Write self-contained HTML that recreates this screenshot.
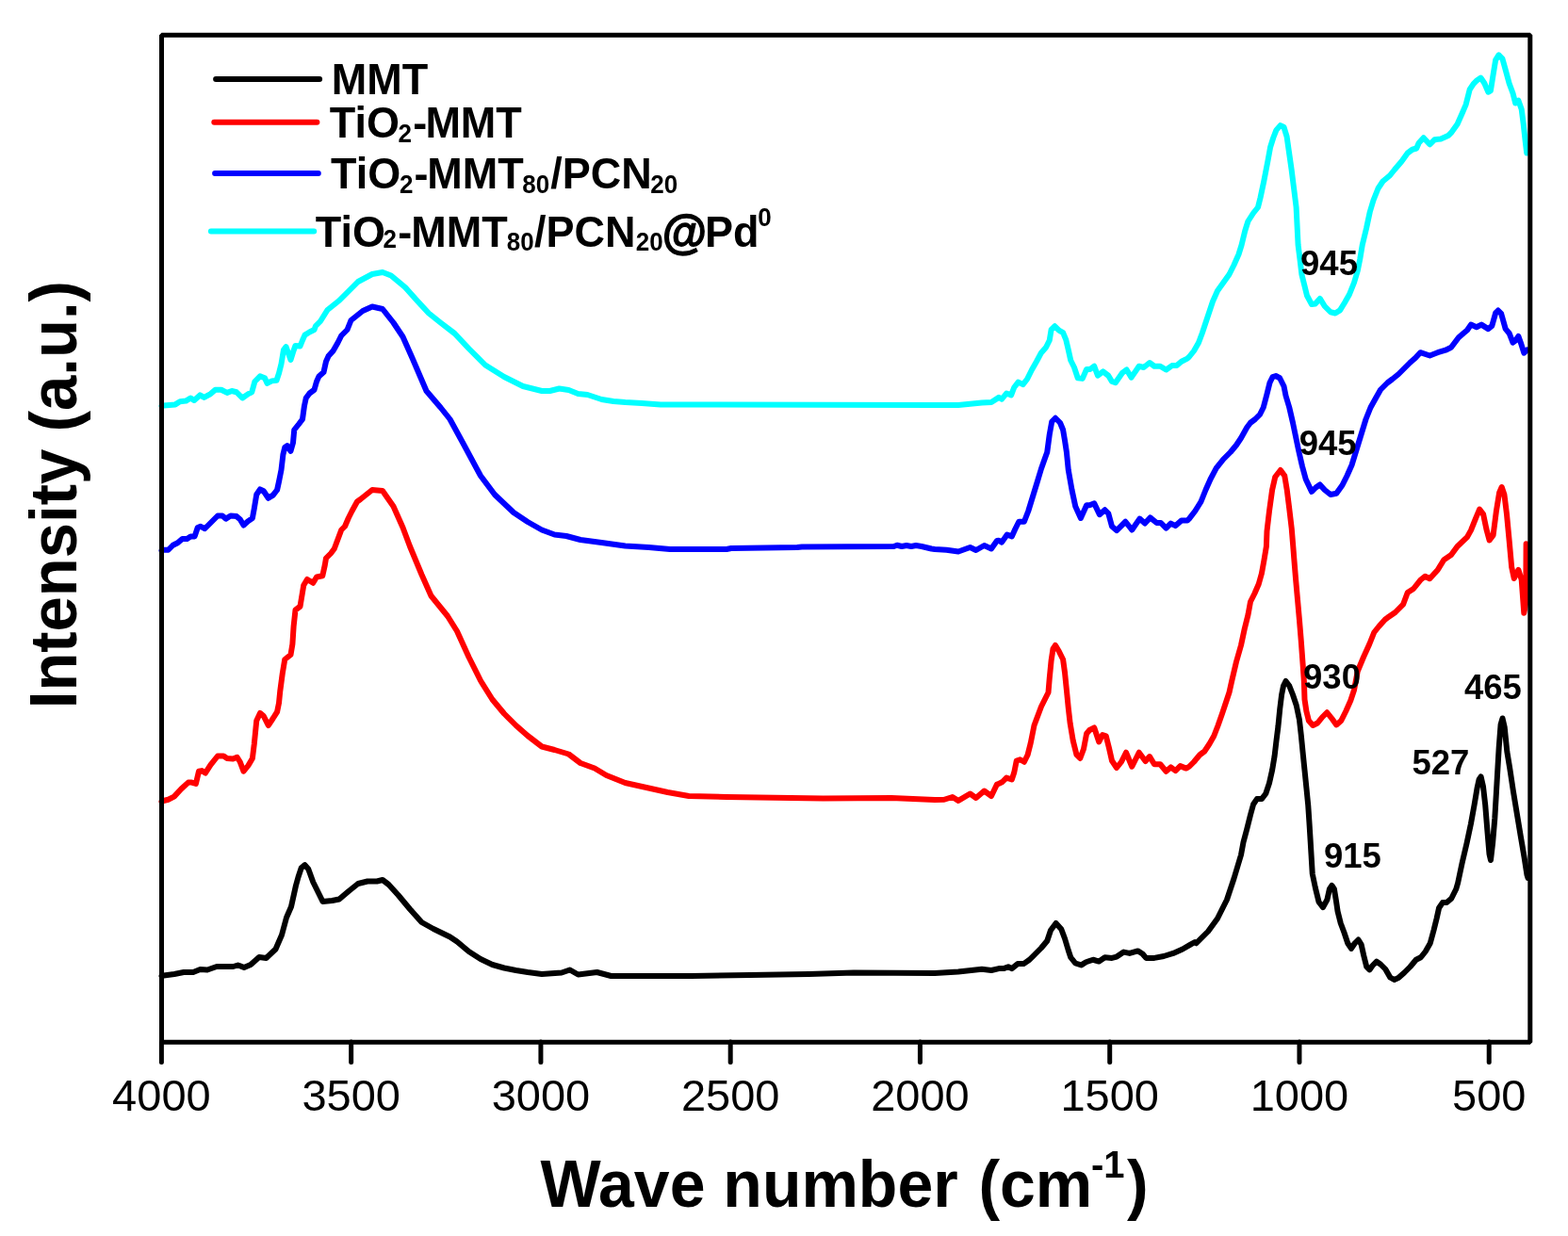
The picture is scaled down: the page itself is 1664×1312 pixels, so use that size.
<!DOCTYPE html>
<html><head><meta charset="utf-8"><title>FTIR spectra</title>
<style>
html,body{margin:0;padding:0;background:#fff;}
body{width:1664px;height:1312px;overflow:hidden;}
svg{display:block;font-family:'Liberation Sans', Arial, sans-serif;}
</style></head><body>
<svg width="1664" height="1312" viewBox="0 0 1664 1312">
<rect x="0" y="0" width="1664" height="1312" fill="#fff"/>
<path d="M171.50 1036.00L173.75 1035.50L185.00 1034.00L195.00 1032.00L205.00 1032.00L212.50 1029.00L220.00 1029.50L230.00 1026.00L240.00 1026.00L247.50 1026.00L252.50 1024.50L259.00 1027.00L266.00 1024.00L275.00 1016.00L282.50 1017.00L292.50 1007.50L299.00 992.50L304.00 974.00L309.00 962.50L314.00 940.00L316.50 931.00L319.75 921.25L323.50 918.10L327.25 922.50L332.25 936.25L342.50 957.00L352.50 956.00L360.00 954.50L370.00 946.00L380.00 938.00L390.00 935.50L400.00 935.50L406.00 934.00L412.50 939.00L422.50 950.00L435.00 965.00L447.50 979.00L460.00 986.00L477.50 994.50L485.00 999.50L497.50 1010.00L510.00 1018.00L522.50 1024.00L535.00 1027.50L547.50 1030.00L560.00 1032.00L575.00 1034.00L596.00 1032.50L604.75 1029.50L613.50 1034.50L633.50 1032.00L648.50 1036.00L733.50 1036.00L796.00 1035.00L858.50 1034.00L906.00 1032.50L992.00 1033.00L1017.00 1031.50L1042.00 1028.75L1052.00 1030.00L1060.00 1028.10L1065.00 1028.10L1070.00 1026.25L1073.75 1028.10L1080.00 1023.10L1086.25 1023.10L1092.50 1018.75L1098.75 1012.50L1105.00 1006.25L1111.25 998.75L1115.00 987.50L1120.60 980.00L1126.25 986.25L1130.00 996.25L1133.75 1008.75L1136.25 1016.25L1141.25 1022.50L1147.50 1024.40L1152.50 1021.25L1160.00 1018.75L1166.25 1020.60L1172.50 1016.25L1180.00 1016.90L1185.00 1015.60L1192.50 1010.60L1198.75 1011.90L1207.50 1009.40L1212.50 1012.50L1216.25 1016.90L1225.00 1016.90L1235.00 1015.00L1245.00 1011.90L1255.00 1007.50L1262.50 1003.10L1268.00 1000.00L1269.50 1001.25L1282.00 988.75L1292.00 975.00L1302.00 955.00L1309.50 932.50L1317.00 907.50L1319.50 894.00L1323.25 880.00L1327.00 865.00L1330.10 853.75L1333.90 848.10L1338.90 848.10L1343.25 842.50L1347.00 831.25L1350.10 817.50L1352.60 802.50L1354.50 786.25L1356.40 771.25L1358.25 752.50L1360.10 737.50L1362.00 728.00L1364.50 723.00L1368.25 728.00L1372.00 737.50L1375.75 748.75L1378.90 763.75L1380.75 780.00L1382.60 798.75L1384.50 817.50L1386.40 836.25L1388.25 855.00L1389.50 873.75L1390.75 894.00L1392.75 927.50L1395.90 942.50L1399.60 957.50L1404.00 963.10L1408.40 955.00L1410.90 943.75L1413.40 940.00L1415.90 943.75L1417.75 955.00L1419.60 967.50L1422.75 980.00L1426.50 990.00L1430.25 1001.25L1434.00 1006.90L1437.75 1001.25L1441.50 997.50L1444.60 1002.50L1447.10 1013.75L1450.25 1026.25L1453.40 1029.40L1456.50 1025.00L1460.90 1020.60L1465.25 1023.75L1470.25 1028.75L1475.25 1037.50L1479.60 1040.00L1484.00 1038.10L1490.25 1032.50L1496.50 1026.25L1502.75 1018.75L1507.75 1016.25L1512.75 1010.00L1517.75 1001.25L1521.50 987.50L1524.60 975.00L1527.10 963.75L1530.90 958.10L1535.25 958.10L1540.25 953.75L1545.25 943.75L1547.20 937.00L1551.50 916.70L1556.60 894.90L1560.90 874.60L1564.60 854.30L1567.50 837.00L1569.60 827.50L1571.60 824.50L1574.00 835.00L1576.20 854.30L1578.30 880.40L1580.50 906.50L1582.00 913.00L1584.10 894.90L1586.30 868.80L1588.50 831.20L1590.70 793.50L1592.60 769.00L1594.50 762.50L1596.70 772.00L1599.30 797.80L1602.20 815.20L1605.90 839.90L1610.20 865.90L1613.80 887.70L1617.50 909.40L1620.40 928.30L1621.50 932.00" fill="none" stroke="#000000" stroke-width="6" stroke-linejoin="round" stroke-linecap="round"/>
<path d="M171.50 851.00L173.50 850.00L178.50 848.75L184.75 845.60L192.25 837.50L199.75 830.60L203.50 830.60L207.90 831.90L211.00 818.75L214.10 818.10L217.90 820.60L223.50 811.90L231.00 802.50L237.25 802.50L241.00 805.00L247.25 805.60L251.60 803.75L254.75 808.75L258.50 818.75L263.50 812.50L267.90 805.00L269.75 790.00L272.25 765.00L276.00 756.90L279.75 760.00L284.75 770.00L289.75 762.50L294.10 755.60L296.00 746.25L297.25 733.75L299.75 715.00L302.25 700.00L308.50 695.00L310.40 683.75L311.60 665.00L313.50 647.50L318.50 643.75L319.75 636.25L322.25 621.25L326.00 615.00L332.25 618.75L336.00 612.50L342.25 611.25L344.75 600.00L346.00 592.50L351.00 587.50L354.75 582.50L358.50 572.50L362.25 562.50L366.00 558.75L369.75 550.00L373.50 542.50L379.00 532.50L382.50 530.00L395.00 520.00L406.00 521.00L417.50 537.50L427.50 560.00L435.00 580.00L447.50 610.00L457.50 632.50L475.00 654.00L485.00 670.00L497.50 697.50L510.00 722.50L522.50 742.50L535.00 757.50L547.50 770.00L560.00 781.00L575.00 792.50L588.50 796.00L603.50 800.50L616.00 810.00L631.00 815.50L643.50 823.00L663.50 831.00L686.00 836.00L708.50 841.00L731.00 845.00L771.00 846.00L873.50 847.50L946.00 847.00L992.00 849.00L1002.00 848.75L1010.75 846.00L1017.00 850.00L1029.50 842.50L1035.75 847.00L1044.50 839.50L1052.00 845.00L1058.00 832.50L1060.00 831.90L1063.75 830.00L1068.10 825.60L1073.75 827.50L1076.25 820.00L1078.75 807.50L1082.50 806.25L1086.90 808.75L1090.60 801.25L1093.75 788.75L1097.50 770.00L1101.25 760.00L1105.00 750.00L1110.00 740.00L1112.50 735.00L1113.75 720.00L1115.60 701.25L1117.50 688.75L1120.00 685.00L1123.75 691.25L1128.10 700.00L1130.00 713.75L1131.90 732.50L1133.75 751.25L1135.60 767.50L1138.75 786.25L1142.50 801.25L1146.25 805.00L1150.00 795.00L1153.10 778.75L1156.25 775.00L1161.25 772.50L1166.25 787.50L1170.00 780.00L1173.75 781.25L1176.90 793.75L1180.00 807.50L1185.00 815.00L1190.00 808.75L1195.00 798.75L1201.25 813.75L1208.75 798.75L1215.60 808.10L1220.00 803.10L1225.00 811.25L1231.25 811.25L1237.50 818.75L1242.50 814.40L1247.50 818.10L1252.50 813.10L1258.75 815.60L1262.00 813.75L1267.00 808.75L1273.25 801.25L1278.25 797.50L1283.25 790.00L1288.25 781.25L1292.60 770.00L1297.00 757.50L1300.75 746.25L1304.50 735.00L1307.00 723.75L1312.00 702.50L1317.00 685.00L1320.75 667.50L1324.50 652.50L1327.00 638.75L1331.40 630.00L1335.75 620.00L1338.90 608.75L1341.40 595.00L1343.90 580.00L1344.50 563.75L1347.00 542.50L1350.10 520.00L1353.25 506.25L1358.90 499.00L1363.25 505.00L1365.75 520.00L1368.25 540.00L1370.75 561.25L1372.60 584.00L1373.25 592.50L1375.10 615.00L1377.00 636.25L1378.90 657.50L1380.75 680.00L1382.60 705.00L1383.90 723.75L1384.50 742.50L1386.40 755.00L1388.90 765.00L1393.25 770.00L1398.25 767.50L1403.25 761.25L1408.25 756.25L1413.25 762.50L1418.25 769.40L1423.25 765.00L1428.25 755.00L1433.25 743.75L1437.00 732.50L1440.75 712.50L1447.00 697.50L1453.25 683.75L1458.25 671.25L1463.25 665.00L1470.00 657.50L1472.30 655.80L1480.70 650.00L1489.00 641.70L1493.75 629.00L1500.00 625.00L1507.30 615.80L1512.30 611.70L1517.30 614.20L1525.70 605.00L1532.30 594.20L1540.00 589.10L1546.60 580.00L1557.00 570.10L1561.00 562.90L1566.20 549.80L1570.10 540.60L1574.10 545.90L1577.40 561.60L1580.60 573.40L1584.60 568.20L1587.80 543.30L1591.10 522.90L1593.70 517.00L1596.40 524.90L1599.00 545.90L1601.60 573.40L1604.20 602.20L1606.80 614.00L1611.40 604.90L1614.70 615.30L1617.30 650.70L1619.30 640.00L1619.60 577.30" fill="none" stroke="#ff0000" stroke-width="6" stroke-linejoin="round" stroke-linecap="round"/>
<path d="M171.50 584.50L173.50 583.75L178.50 583.75L183.50 578.75L188.50 576.25L193.50 571.90L198.50 571.90L202.25 569.40L206.60 569.40L209.75 560.00L212.90 558.75L217.25 561.25L223.50 555.00L231.00 547.50L236.00 547.50L239.75 550.60L244.75 547.50L251.00 548.10L254.75 551.25L258.50 557.50L263.50 553.10L267.90 550.00L269.75 540.00L272.25 525.00L276.00 519.40L279.75 521.25L284.75 528.75L289.75 525.60L294.10 520.00L296.00 511.25L298.50 498.75L300.40 482.50L302.25 475.00L304.75 473.10L308.50 478.75L311.00 470.00L312.25 456.25L317.25 450.00L321.00 445.00L322.90 431.25L324.75 422.50L328.50 417.50L333.50 413.75L336.00 405.00L338.50 399.40L343.50 395.00L346.00 383.75L348.50 378.10L353.50 372.50L358.50 363.75L362.25 356.25L368.50 350.00L372.50 340.00L385.00 330.00L395.00 325.50L406.00 328.00L417.50 342.50L427.50 357.50L437.50 380.00L452.50 415.00L467.50 432.50L477.50 445.00L492.50 472.50L510.00 505.00L525.00 525.00L545.00 544.00L560.00 554.00L575.00 562.50L588.50 567.50L601.00 569.00L616.00 573.00L638.50 576.00L663.50 579.50L688.50 581.00L711.00 583.00L771.00 583.00L776.00 582.00L846.00 581.00L851.00 580.50L948.50 580.00L952.00 578.75L957.00 580.00L962.00 579.00L967.00 580.00L972.00 579.00L978.00 580.00L988.50 582.50L992.00 583.00L1004.50 583.75L1017.00 585.50L1029.50 581.00L1035.75 584.00L1044.50 579.00L1052.00 582.50L1058.00 574.00L1060.00 573.75L1063.10 575.60L1068.75 567.50L1073.75 569.40L1077.50 561.25L1081.25 553.75L1086.90 553.75L1091.25 542.50L1096.25 526.25L1101.25 510.00L1105.00 497.50L1108.00 489.00L1111.25 480.00L1113.75 461.25L1116.25 447.50L1120.00 443.75L1125.00 448.75L1128.10 456.25L1130.00 467.50L1131.90 480.00L1133.75 498.75L1137.50 520.00L1141.25 537.50L1146.90 550.00L1153.10 536.25L1156.25 536.25L1161.25 534.40L1166.90 546.25L1172.50 541.25L1176.25 545.00L1180.00 558.75L1185.00 563.10L1194.40 553.75L1201.25 562.50L1209.40 550.60L1215.00 555.60L1220.60 549.40L1227.50 555.00L1231.90 555.00L1237.50 560.60L1242.50 555.60L1247.50 558.10L1253.75 552.50L1260.00 552.50L1262.00 550.60L1268.25 542.50L1274.50 532.50L1279.50 520.00L1284.50 508.75L1290.75 496.90L1298.25 487.50L1305.75 480.00L1312.00 472.50L1317.00 465.00L1323.25 453.75L1327.00 448.75L1332.00 445.00L1337.00 440.00L1340.75 432.50L1344.40 418.75L1347.50 406.25L1350.60 400.00L1353.90 399.00L1358.10 401.25L1362.50 410.00L1364.50 420.00L1368.25 432.50L1372.00 448.75L1375.10 463.75L1378.25 478.75L1382.00 495.00L1385.75 508.75L1392.00 521.90L1396.40 517.50L1400.75 514.40L1405.75 520.00L1412.00 525.00L1418.25 523.75L1424.50 515.00L1429.50 505.00L1434.50 493.75L1439.50 477.50L1444.50 461.25L1449.50 445.00L1454.50 432.50L1460.75 421.25L1465.00 413.75L1472.50 406.25L1477.50 402.50L1483.75 397.50L1490.00 391.25L1496.25 385.00L1502.00 380.00L1507.30 374.20L1517.30 377.50L1525.70 374.20L1534.00 371.70L1540.00 368.80L1547.90 358.30L1553.10 353.70L1557.00 350.50L1561.00 344.60L1566.90 347.20L1572.10 344.60L1579.30 349.10L1583.30 345.90L1587.20 332.10L1589.80 329.50L1593.10 332.80L1597.70 349.10L1601.60 353.70L1605.50 363.60L1608.20 361.60L1611.40 357.00L1614.00 364.20L1617.30 374.70L1620.60 371.40" fill="none" stroke="#0000ff" stroke-width="6" stroke-linejoin="round" stroke-linecap="round"/>
<path d="M171.50 431.00L173.50 430.60L179.75 430.00L186.00 429.40L191.00 426.25L197.25 425.60L202.25 422.50L206.00 425.00L212.25 419.40L216.60 421.90L223.50 418.10L228.50 413.75L234.75 413.75L241.00 416.90L246.00 415.00L251.00 416.25L257.25 422.50L263.50 418.10L267.25 416.25L270.40 405.00L276.00 399.40L281.00 401.25L283.50 406.90L288.50 404.40L293.50 403.75L296.00 396.25L298.50 386.25L301.00 371.25L303.50 368.10L306.00 375.00L308.50 381.90L311.00 373.75L313.50 366.90L318.50 367.50L321.00 361.25L323.50 355.60L328.50 352.50L333.50 350.00L335.00 346.00L340.00 341.00L347.50 329.00L360.00 319.00L370.00 309.00L380.00 299.00L395.00 291.00L406.00 289.00L415.00 292.50L430.00 305.00L442.50 319.00L455.00 332.50L467.50 342.50L482.50 354.00L497.50 370.00L515.00 387.50L535.00 400.00L555.00 410.00L575.00 415.00L583.50 415.00L593.50 412.50L603.50 414.00L613.50 418.00L623.50 419.00L638.50 424.00L651.00 426.00L663.50 427.00L681.00 428.00L701.00 429.50L992.00 430.00L1004.50 430.00L1017.00 430.00L1029.50 428.75L1042.00 427.50L1052.00 427.00L1060.00 421.90L1063.10 423.75L1068.10 417.50L1073.10 419.40L1076.25 411.25L1080.60 405.60L1085.60 408.10L1090.00 402.50L1095.00 392.50L1100.00 383.75L1105.00 374.40L1110.00 368.75L1113.75 361.25L1115.60 350.00L1119.40 346.25L1123.75 350.60L1128.10 353.10L1131.25 360.60L1133.75 371.25L1136.25 382.50L1140.00 390.00L1143.75 401.25L1148.75 401.90L1153.10 391.90L1156.90 391.90L1161.25 388.75L1165.00 398.75L1170.60 394.40L1176.25 398.75L1180.00 405.00L1183.75 406.25L1191.25 395.60L1195.60 392.50L1200.60 400.60L1208.75 388.75L1213.75 390.00L1220.00 385.00L1225.00 388.75L1231.25 388.75L1237.50 392.50L1243.75 388.10L1248.75 388.10L1253.75 383.75L1260.00 380.60L1262.00 378.75L1267.00 372.50L1272.00 363.75L1275.75 353.75L1279.50 342.50L1283.25 331.25L1287.00 320.00L1292.00 308.75L1298.25 300.00L1304.50 291.25L1309.50 281.25L1314.50 270.00L1317.60 260.00L1321.25 245.00L1324.40 235.00L1330.00 226.25L1335.00 220.00L1337.50 210.00L1341.25 192.50L1345.60 170.00L1348.10 156.25L1351.25 146.25L1354.40 138.10L1358.75 133.10L1362.50 135.00L1365.60 145.00L1368.10 162.50L1370.60 180.00L1373.10 200.00L1375.60 220.00L1377.60 260.00L1379.50 275.00L1381.40 291.25L1383.90 301.25L1387.00 313.75L1392.00 323.10L1395.75 322.50L1400.75 316.90L1405.75 325.00L1412.00 331.25L1417.00 332.50L1422.00 329.40L1427.00 321.25L1432.00 312.50L1437.00 300.00L1440.75 287.50L1443.25 275.00L1445.75 260.00L1450.00 242.50L1453.75 225.00L1457.50 212.50L1462.50 200.00L1467.50 192.50L1475.00 186.25L1480.00 180.00L1487.50 171.25L1493.75 162.50L1498.75 158.75L1503.20 157.50L1505.70 151.70L1510.70 146.30L1517.30 153.30L1522.30 148.30L1529.00 147.50L1537.30 143.70L1540.00 140.90L1546.60 131.70L1551.80 120.00L1555.70 110.80L1559.70 95.00L1563.60 89.10L1567.50 85.20L1571.50 82.60L1575.40 88.50L1579.30 97.70L1581.90 96.40L1584.60 79.30L1587.20 63.60L1590.50 58.30L1594.40 62.30L1597.70 74.10L1601.60 88.50L1605.50 99.00L1608.20 109.50L1611.40 106.80L1614.70 116.00L1616.70 131.70L1618.60 148.80L1620.20 162.50" fill="none" stroke="#00ffff" stroke-width="6" stroke-linejoin="round" stroke-linecap="round"/>
<rect x="171.5" y="37.3" width="1452.3" height="1069" fill="none" stroke="#000" stroke-width="5" stroke-linejoin="bevel"/>
<line x1="171.40" y1="1106" x2="171.40" y2="1127.5" stroke="#000" stroke-width="5" stroke-linecap="round"/>
<text x="171.40" y="1178.8" font-size="47" text-anchor="middle">4000</text>
<line x1="372.66" y1="1106" x2="372.66" y2="1127.5" stroke="#000" stroke-width="5" stroke-linecap="round"/>
<text x="372.66" y="1178.8" font-size="47" text-anchor="middle">3500</text>
<line x1="573.92" y1="1106" x2="573.92" y2="1127.5" stroke="#000" stroke-width="5" stroke-linecap="round"/>
<text x="573.92" y="1178.8" font-size="47" text-anchor="middle">3000</text>
<line x1="775.18" y1="1106" x2="775.18" y2="1127.5" stroke="#000" stroke-width="5" stroke-linecap="round"/>
<text x="775.18" y="1178.8" font-size="47" text-anchor="middle">2500</text>
<line x1="976.44" y1="1106" x2="976.44" y2="1127.5" stroke="#000" stroke-width="5" stroke-linecap="round"/>
<text x="976.44" y="1178.8" font-size="47" text-anchor="middle">2000</text>
<line x1="1177.70" y1="1106" x2="1177.70" y2="1127.5" stroke="#000" stroke-width="5" stroke-linecap="round"/>
<text x="1177.70" y="1178.8" font-size="47" text-anchor="middle">1500</text>
<line x1="1378.96" y1="1106" x2="1378.96" y2="1127.5" stroke="#000" stroke-width="5" stroke-linecap="round"/>
<text x="1378.96" y="1178.8" font-size="47" text-anchor="middle">1000</text>
<line x1="1580.22" y1="1106" x2="1580.22" y2="1127.5" stroke="#000" stroke-width="5" stroke-linecap="round"/>
<text x="1580.22" y="1178.8" font-size="47" text-anchor="middle">500</text>
<line x1="229.1" y1="83.9" x2="339.1" y2="83.9" stroke="#000000" stroke-width="6" stroke-linecap="round"/>
<line x1="227.3" y1="129.7" x2="336.4" y2="129.7" stroke="#ff0000" stroke-width="6" stroke-linecap="round"/>
<line x1="228.1" y1="183.9" x2="337.8" y2="183.9" stroke="#0000ff" stroke-width="6" stroke-linecap="round"/>
<line x1="223.9" y1="245.5" x2="333.2" y2="245.5" stroke="#00ffff" stroke-width="6" stroke-linecap="round"/>
<text transform="translate(351.70 100.10) scale(1 1.040)" font-size="45" font-weight="bold">MMT</text>
<text transform="translate(349.80 146.20) scale(1 1.040)" font-size="45" font-weight="bold">TiO</text>
<text transform="translate(422.52 150.75) scale(1 1.040)" font-size="26" font-weight="bold">2</text>
<text transform="translate(438.25 146.20) scale(1 1.040)" font-size="45" font-weight="bold">-</text>
<text transform="translate(451.40 146.20) scale(1 1.040)" font-size="45" font-weight="bold">MMT</text>
<text transform="translate(351.10 199.90) scale(1 1.040)" font-size="45" font-weight="bold">TiO</text>
<text transform="translate(424.02 204.70) scale(1 1.040)" font-size="26" font-weight="bold">2</text>
<text transform="translate(439.45 199.90) scale(1 1.040)" font-size="45" font-weight="bold">-</text>
<text transform="translate(453.20 199.90) scale(1 1.040)" font-size="45" font-weight="bold">MMT</text>
<text transform="translate(554.33 204.70) scale(1 1.040)" font-size="26" font-weight="bold">80</text>
<text transform="translate(584.20 199.90) scale(1 1.040)" font-size="45" font-weight="bold">/PCN</text>
<text transform="translate(690.23 204.70) scale(1 1.040)" font-size="26" font-weight="bold">20</text>
<text transform="translate(334.80 261.90) scale(1 1.040)" font-size="45" font-weight="bold">TiO</text>
<text transform="translate(406.52 262.90) scale(1 1.040)" font-size="26" font-weight="bold">2</text>
<text transform="translate(422.25 261.90) scale(1 1.040)" font-size="45" font-weight="bold">-</text>
<text transform="translate(436.20 261.90) scale(1 1.040)" font-size="45" font-weight="bold">MMT</text>
<text transform="translate(537.73 265.60) scale(1 1.040)" font-size="26" font-weight="bold">80</text>
<text transform="translate(567.00 261.90) scale(1 1.040)" font-size="45" font-weight="bold">/PCN</text>
<text transform="translate(674.73 265.60) scale(1 1.040)" font-size="26" font-weight="bold">20</text>
<text stroke="#000" stroke-width="1.3" transform="translate(702.85 264.40) scale(1 1.040)" font-size="48.5" font-weight="bold">@</text>
<text transform="translate(748.00 261.90) scale(1 1.040)" font-size="45" font-weight="bold">Pd</text>
<text transform="translate(804.30 240.00) scale(1 1.040)" font-size="26" font-weight="bold">0</text>
<text x="1380.05" y="291.50" font-size="36.5" font-weight="bold">945</text>
<text x="1378.75" y="482.80" font-size="36.5" font-weight="bold">945</text>
<text x="1383.05" y="731.00" font-size="36.5" font-weight="bold">930</text>
<text x="1404.95" y="920.70" font-size="36.5" font-weight="bold">915</text>
<text x="1498.47" y="821.50" font-size="36.5" font-weight="bold">527</text>
<text x="1554.00" y="741.80" font-size="36.5" font-weight="bold">465</text>
<text transform="translate(573.38 1281.20) scale(1 1.035)" font-size="68" font-weight="bold">Wave number</text>
<text transform="translate(1038.42 1281.20) scale(1 1.035)" font-size="68" font-weight="bold">(cm</text>
<text transform="translate(1158.00 1249.70) scale(1 1.035)" font-size="40" font-weight="bold">-1</text>
<text transform="translate(1195.88 1281.20) scale(1 1.035)" font-size="68" font-weight="bold">)</text>
<text transform="translate(81 752.2) rotate(-90) scale(1 1.06)" x="0" y="0" font-size="67" font-weight="bold">Intensity (a.u.)</text>
</svg>
</body></html>
